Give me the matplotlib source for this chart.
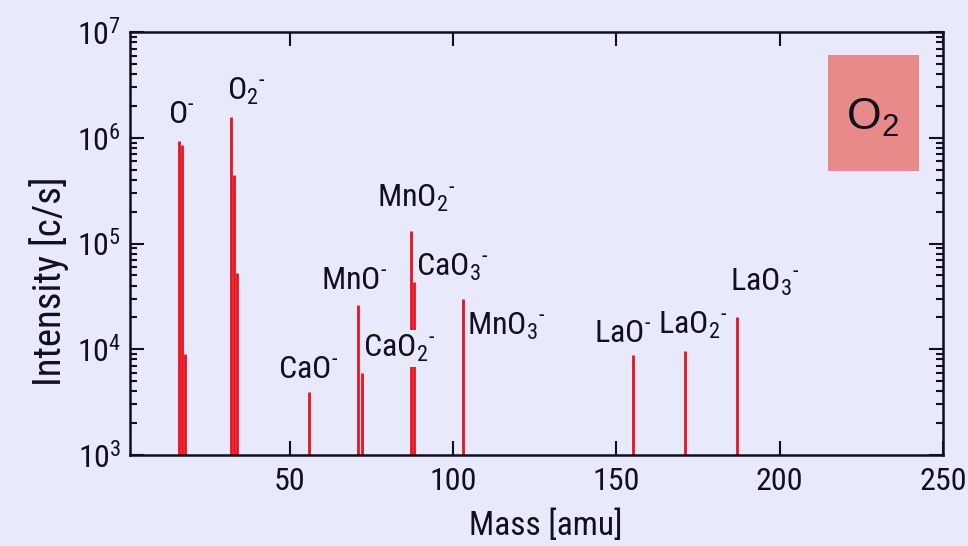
import matplotlib
matplotlib.use('Agg')
import matplotlib.pyplot as plt
from matplotlib.patches import Rectangle

BG = '#e8eafb'
INK = '#10101e'
RED = '#e8121e'

# peak masses (amu) and intensities (c/s)
masses = [16, 17, 18, 32, 33, 34, 56, 71, 72, 87, 88, 103, 155, 171, 187]
intensity = [9.4e5, 8.6e5, 9.0e3, 1.57e6, 4.5e5, 5.3e4, 3.95e3,
             2.6e4, 5.9e3, 1.3e5, 4.35e4, 3.0e4, 8.9e3, 9.6e3, 2.0e4]

# ion labels: text, left x (amu), baseline y (c/s), masks lines behind it
HY = '\u2010'
ion_labels = [
    (r'$O^{%s}$' % HY, 12.6, 1.39e6, False),
    (r'$O_2{}^{%s}$' % HY, 30.7, 2.28e6, False),
    (r'$MnO_2{}^{%s}$' % HY, 76.6, 2.22e5, False),
    (r'$CaO_3{}^{%s}$' % HY, 88.8, 4.99e4, False),
    (r'$MnO^{%s}$' % HY, 59.7, 3.73e4, False),
    (r'$CaO_2{}^{%s}$' % HY, 72.3, 8.4e3, True),
    (r'$MnO_3{}^{%s}$' % HY, 104.4, 1.36e4, False),
    (r'$CaO^{%s}$' % HY, 46.4, 5.28e3, False),
    (r'$LaO^{%s}$' % HY, 143.3, 1.16e4, False),
    (r'$LaO_2{}^{%s}$' % HY, 162.8, 1.39e4, False),
    (r'$LaO_3{}^{%s}$' % HY, 184.8, 3.55e4, False),
]

FONT = 'Roboto Condensed'
plt.rcParams['font.family'] = [FONT, 'DejaVu Sans']
plt.rcParams['mathtext.fontset'] = 'custom'
plt.rcParams['mathtext.rm'] = FONT
plt.rcParams['mathtext.it'] = FONT
plt.rcParams['mathtext.sf'] = 'Liberation Sans'
plt.rcParams['mathtext.default'] = 'rm'

fig = plt.figure(figsize=(9.68, 5.46), dpi=100, facecolor=BG)
ax = fig.add_axes([0.134, 0.167, 0.840, 0.774], facecolor=BG)

ax.vlines(masses, 1e3, intensity, color=RED, lw=2, zorder=2)

for txt, x, y, mask in ion_labels:
    t = ax.text(x, y, txt, fontsize=23, color=INK, ha='left', va='baseline', zorder=3)
    if mask:
        t.set_bbox(dict(facecolor=BG, edgecolor='none', pad=2))

ax.set_yscale('log')
ax.set_xlim(1, 250)
ax.set_ylim(1e3, 1e7)
ax.set_xticks([50, 100, 150, 200, 250])

for s in ax.spines.values():
    s.set_linewidth(1.8)
    s.set_color(INK)
ax.tick_params(which='both', direction='in', top=True, right=True,
               colors=INK, labelsize=23, width=1.5)
ax.tick_params(which='major', length=10)
ax.tick_params(which='minor', length=5)
ax.tick_params(axis='x', pad=9)
ax.tick_params(axis='y', pad=6)

ax.set_xlabel('Mass [amu]', fontsize=24, color=INK)
ax.xaxis.set_label_coords(0.512, -0.13)
ax.set_ylabel('Intensity [c/s]', fontsize=28, color=INK)
ax.yaxis.set_label_coords(-0.075, 0.41)

# gas label box
ax.add_patch(Rectangle((0.8585, 0.671), 0.112, 0.274, transform=ax.transAxes,
                       facecolor='#e98a8a', edgecolor='none', zorder=4))
ax.text(0.913, 0.797, r'$\mathsf{O_2}$', transform=ax.transAxes, fontsize=32,
        ha='center', va='center', color=INK, zorder=5)

fig.savefig('out.png', dpi=100, facecolor=BG)
